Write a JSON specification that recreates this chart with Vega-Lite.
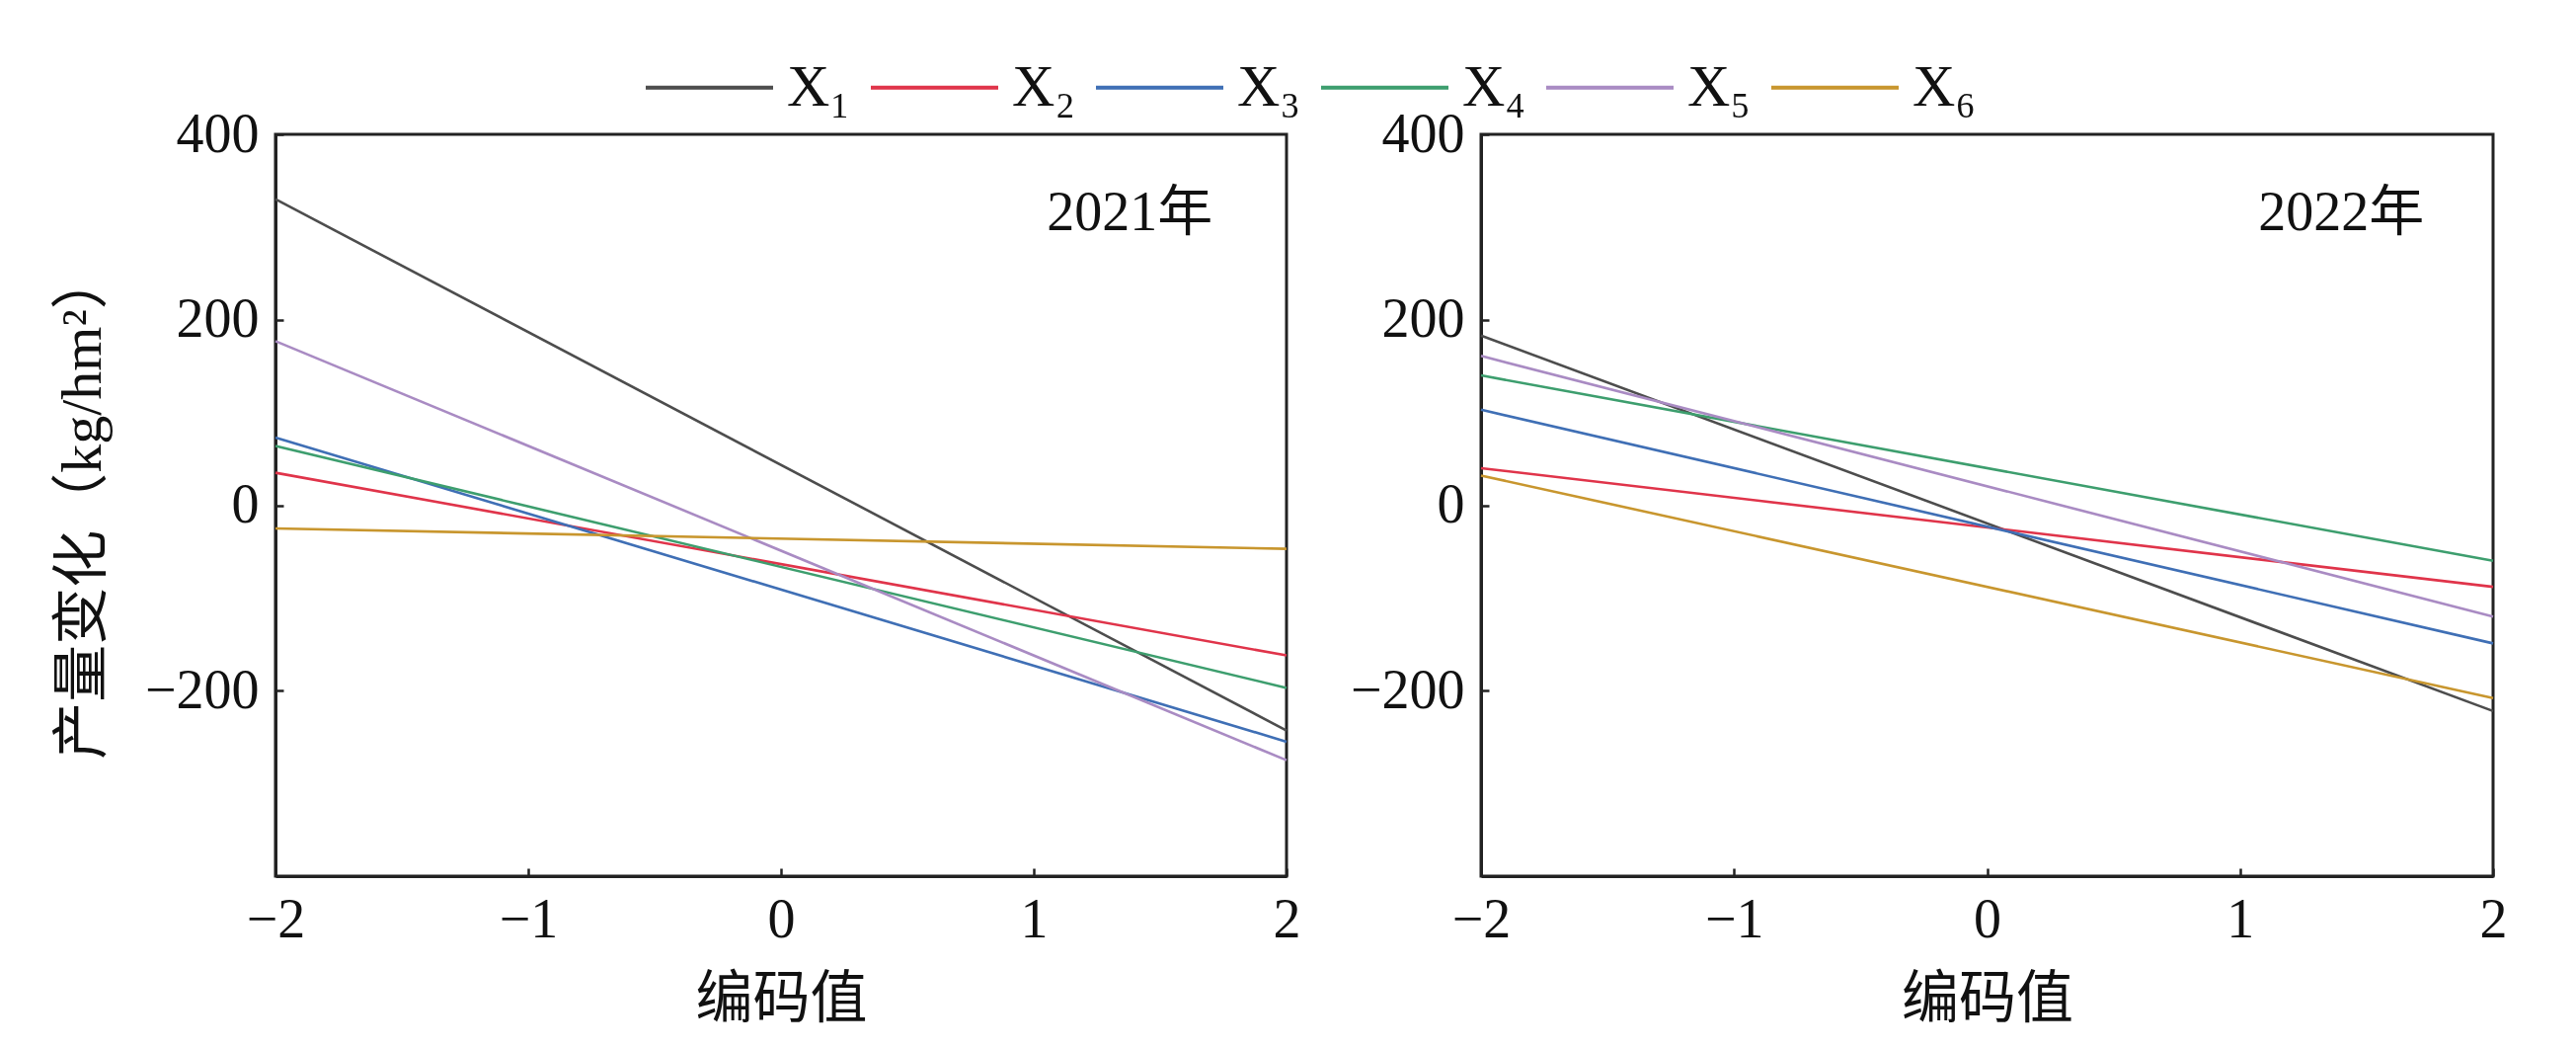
{
  "$schema": "https://vega.github.io/schema/vega-lite/v6.json",
  "autosize": {"type": "pad"},
  "padding": {"left": 53, "top": 22, "right": 5, "bottom": 5},
  "background": "white",
  "datasets": {
    "lines": [
      {"year": "2021", "series": "X₁", "code": -2, "change": 330},
      {"year": "2021", "series": "X₁", "code": 2, "change": -243},
      {"year": "2021", "series": "X₂", "code": -2, "change": 35},
      {"year": "2021", "series": "X₂", "code": 2, "change": -162},
      {"year": "2021", "series": "X₃", "code": -2, "change": 73},
      {"year": "2021", "series": "X₃", "code": 2, "change": -255},
      {"year": "2021", "series": "X₄", "code": -2, "change": 64},
      {"year": "2021", "series": "X₄", "code": 2, "change": -197},
      {"year": "2021", "series": "X₅", "code": -2, "change": 177},
      {"year": "2021", "series": "X₅", "code": 2, "change": -275},
      {"year": "2021", "series": "X₆", "code": -2, "change": -25},
      {"year": "2021", "series": "X₆", "code": 2, "change": -47},
      {"year": "2022", "series": "X₁", "code": -2, "change": 183},
      {"year": "2022", "series": "X₁", "code": 2, "change": -222},
      {"year": "2022", "series": "X₂", "code": -2, "change": 40},
      {"year": "2022", "series": "X₂", "code": 2, "change": -88},
      {"year": "2022", "series": "X₃", "code": -2, "change": 103},
      {"year": "2022", "series": "X₃", "code": 2, "change": -149},
      {"year": "2022", "series": "X₄", "code": -2, "change": 140},
      {"year": "2022", "series": "X₄", "code": 2, "change": -60},
      {"year": "2022", "series": "X₅", "code": -2, "change": 161},
      {"year": "2022", "series": "X₅", "code": 2, "change": -120},
      {"year": "2022", "series": "X₆", "code": -2, "change": 32},
      {"year": "2022", "series": "X₆", "code": 2, "change": -208}
    ],
    "labels": [
      {"year": "2021", "text": "2021年", "code": 1.38, "change": 315},
      {"year": "2022", "text": "2022年", "code": 1.4, "change": 315}
    ]
  },
  "spacing": 46,
  "hconcat": [
    {
      "width": 1024,
      "height": 751,
      "layer": [
        {
          "data": {"name": "lines"},
          "transform": [{"filter": "datum.year == '2021'"}],
          "mark": {"type": "line", "strokeWidth": 2.6},
          "encoding": {
            "x": {"field": "code", "type": "quantitative", "scale": {"domain": [-2, 2], "nice": false},
                  "axis": {"title": "编码值", "values": [-2, -1, 0, 1, 2], "format": "d", "labelFlush": false, "titlePadding": 24}},
            "y": {"field": "change", "type": "quantitative", "scale": {"domain": [-400, 400], "nice": false},
                  "axis": {"title": "产量变化（kg/hm²）", "values": [-200, 0, 200, 400], "format": "d", "titlePadding": 33}},
            "color": {"field": "series", "type": "nominal",
                      "scale": {"domain": ["X₁", "X₂", "X₃", "X₄", "X₅", "X₆"], "range": ["#4d4d4d", "#e0344a", "#3f6fb5", "#3d9e6e", "#a98bc3", "#c8962e"]},
                      "legend": {"orient": "none", "legendX": 373, "legendY": -114, "direction": "horizontal", "title": null}},
            "detail": {"field": "series"}
          }
        },
        {
          "data": {"name": "labels"},
          "transform": [{"filter": "datum.year == '2021'"}],
          "mark": {"type": "text", "fontSize": 56, "font": "Liberation Serif, Noto Sans CJK SC", "color": "#111", "align": "center", "baseline": "middle"},
          "encoding": {
            "x": {"field": "code", "type": "quantitative"},
            "y": {"field": "change", "type": "quantitative"},
            "text": {"field": "text"}
          }
        }
      ]
    },
    {
      "width": 1025,
      "height": 751,
      "layer": [
        {
          "data": {"name": "lines"},
          "transform": [{"filter": "datum.year == '2022'"}],
          "mark": {"type": "line", "strokeWidth": 2.6},
          "encoding": {
            "x": {"field": "code", "type": "quantitative", "scale": {"domain": [-2, 2], "nice": false},
                  "axis": {"title": "编码值", "values": [-2, -1, 0, 1, 2], "format": "d", "labelFlush": false, "titlePadding": 24}},
            "y": {"field": "change", "type": "quantitative", "scale": {"domain": [-400, 400], "nice": false},
                  "axis": {"title": null, "values": [-200, 0, 200, 400], "format": "d"}},
            "color": {"field": "series", "type": "nominal",
                      "scale": {"domain": ["X₁", "X₂", "X₃", "X₄", "X₅", "X₆"], "range": ["#4d4d4d", "#e0344a", "#3f6fb5", "#3d9e6e", "#a98bc3", "#c8962e"]},
                      "legend": {"orient": "none", "legendX": 373, "legendY": -114, "direction": "horizontal", "title": null}},
            "detail": {"field": "series"}
          }
        },
        {
          "data": {"name": "labels"},
          "transform": [{"filter": "datum.year == '2022'"}],
          "mark": {"type": "text", "fontSize": 56, "font": "Liberation Serif, Noto Sans CJK SC", "color": "#111", "align": "center", "baseline": "middle"},
          "encoding": {
            "x": {"field": "code", "type": "quantitative"},
            "y": {"field": "change", "type": "quantitative"},
            "text": {"field": "text"}
          }
        }
      ]
    }
  ],
  "config": {
    "view": {"stroke": "#222", "strokeWidth": 3},
    "axis": {
      "domainColor": "#222", "domainWidth": 3,
      "tickColor": "#222", "tickWidth": 2.5, "tickSize": -8,
      "labelFont": "Liberation Serif", "labelFontSize": 56, "labelColor": "#111", "labelPadding": 25,
      "grid": false,
      "titleFont": "Liberation Serif, Noto Sans CJK SC", "titleFontSize": 58, "titleFontWeight": "normal", "titleColor": "#111"
    },
    "legend": {
      "symbolType": "stroke", "symbolSize": 16641, "symbolStrokeWidth": 4,
      "labelFont": "Liberation Serif", "labelFontSize": 60, "labelColor": "#111",
      "labelOffset": 12, "columnPadding": 12
    }
  }
}
